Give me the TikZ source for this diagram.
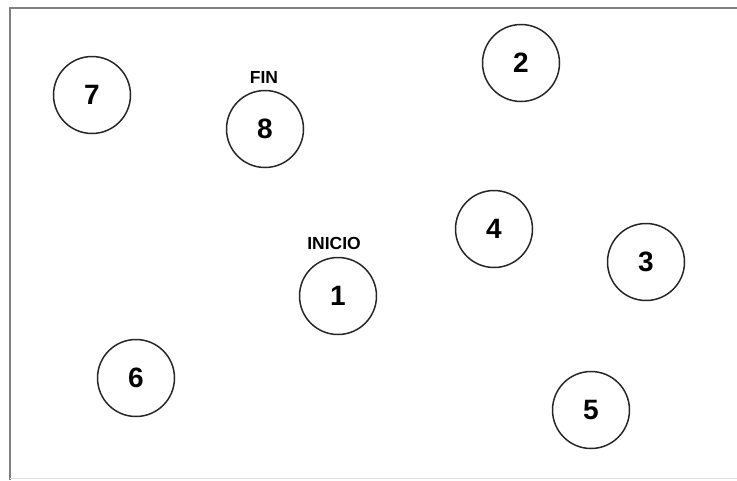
\documentclass[tikz,border=0pt]{standalone}
\usepackage{fontspec}
\setmainfont{Liberation Sans}
\begin{document}
\begin{tikzpicture}[x=1pt,y=-1pt,
  state/.style={circle,draw=black!85,line width=1.5pt,minimum size=77pt,inner sep=0pt,font=\bfseries\fontsize{28}{28}\selectfont},
  tag/.style={font=\bfseries\fontsize{17.5}{17.5}\selectfont,inner sep=0pt}]
\useasboundingbox (0,0) rectangle (737,480);
\coordinate (bl) at (10,480);
\coordinate (tl) at (10,8);
\coordinate (tr) at (737,8);
\coordinate (bb1) at (10,478);
\coordinate (bb2) at (737,478);
\draw[black!50,line width=1.5pt] (bl) -- (tl) -- (tr);
\draw[black!12,line width=1pt] (bb1) -- (bb2);
\node[state] (n7) at (92,95) {7};
\node[state] (n8) at (265,129) {8};
\node[state] (n2) at (521,63) {2};
\node[state] (n4) at (494,229) {4};
\node[state] (n3) at (646,262) {3};
\node[state] (n1) at (338,296) {1};
\node[state] (n6) at (136,378) {6};
\node[state] (n5) at (591,410) {5};
\node[tag] (fin) at (264,77) {FIN};
\node[tag] (inicio) at (334,243) {INICIO};
\end{tikzpicture}
\end{document}
